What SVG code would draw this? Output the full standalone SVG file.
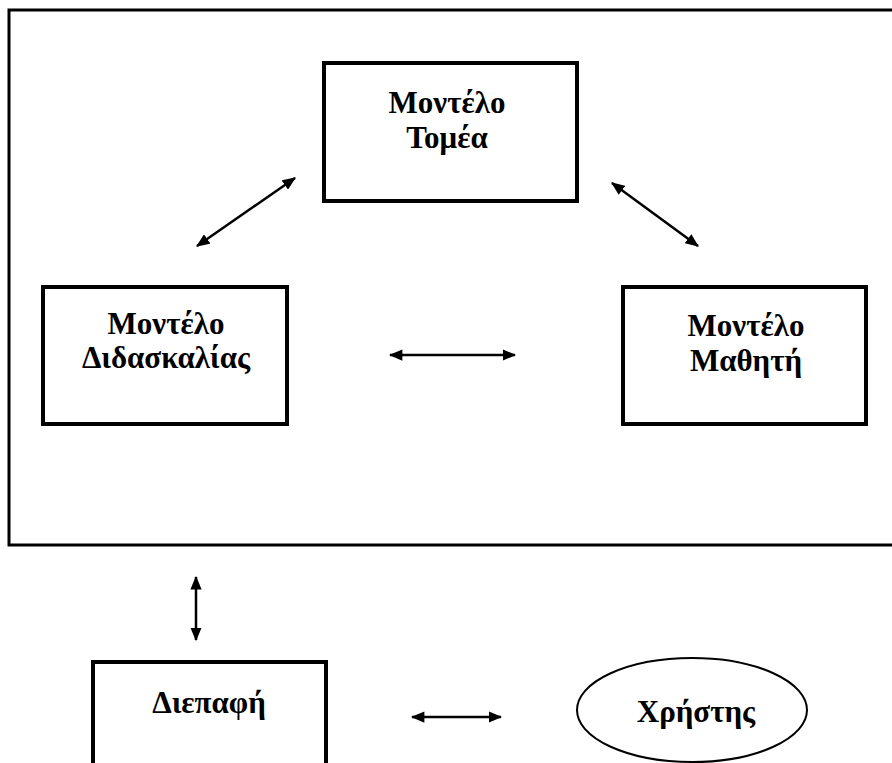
<svg xmlns="http://www.w3.org/2000/svg" width="892" height="763" viewBox="0 0 892 763">
<style>
.box{fill:#fff;stroke:#000;stroke-width:4}
.frame{fill:none;stroke:#000;stroke-width:3}
.lbl{font-family:"Liberation Serif","Times New Roman",serif;font-weight:bold;font-size:31px;text-anchor:middle;fill:#000}
.con{stroke:#000;stroke-width:2.5;fill:none;marker-start:url(#ah);marker-end:url(#ah)}
</style>
<defs>
<marker id="ah" viewBox="0 0 12 10" refX="11" refY="5" markerWidth="5.5" markerHeight="4.5" markerUnits="strokeWidth" orient="auto-start-reverse">
<path d="M0,0 L12,5 L0,10 z" fill="#000"/>
</marker>
</defs>
<rect class="frame" x="9" y="10" width="900" height="535"/>
<g id="domain">
<rect class="box" x="324" y="63" width="253" height="138"/>
<text class="lbl" x="447" y="113">Μοντέλο</text>
<text class="lbl" x="447" y="148">Τομέα</text>
</g>
<g id="teaching">
<rect class="box" x="43" y="287" width="244" height="137"/>
<text class="lbl" x="166" y="334">Μοντέλο</text>
<text class="lbl" x="166" y="368">Διδασκαλίας</text>
</g>
<g id="student">
<rect class="box" x="623" y="287" width="243" height="137"/>
<text class="lbl" x="746" y="336">Μοντέλο</text>
<text class="lbl" x="746" y="371">Μαθητή</text>
</g>
<g id="interface">
<rect class="box" x="93" y="662" width="233" height="110"/>
<text class="lbl" x="209" y="713">Διεπαφή</text>
</g>
<g id="user">
<ellipse cx="692" cy="710" rx="115" ry="52" fill="#fff" stroke="#000" stroke-width="2"/>
<text class="lbl" x="696" y="722">Χρήστης</text>
</g>
<g id="connectors">
<line class="con" x1="197" y1="246" x2="295" y2="178"/>
<line class="con" x1="612" y1="183" x2="698" y2="246"/>
<line class="con" x1="390" y1="355" x2="515" y2="355"/>
<line class="con" x1="196" y1="577" x2="196" y2="640"/>
<line class="con" x1="412" y1="717" x2="501" y2="717"/>
</g>
</svg>
